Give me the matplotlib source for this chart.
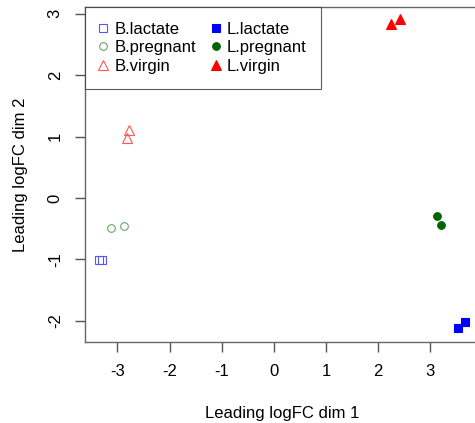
import matplotlib
matplotlib.use('Agg')
import matplotlib.pyplot as plt

plt.rcParams['font.family'] = ['Liberation Sans', 'DejaVu Sans']

# MDS coordinates per group (dim 1, dim 2)
groups = ['B.lactate', 'B.pregnant', 'B.virgin', 'L.lactate', 'L.pregnant', 'L.virgin']
dim1 = {
    'B.lactate': [-3.35, -3.30],
    'B.pregnant': [-3.12, -2.87],
    'B.virgin': [-2.78, -2.82],
    'L.lactate': [3.52, 3.66],
    'L.pregnant': [3.12, 3.20],
    'L.virgin': [2.24, 2.41],
}
dim2 = {
    'B.lactate': [-1.01, -1.01],
    'B.pregnant': [-0.49, -0.45],
    'B.virgin': [1.11, 0.98],
    'L.lactate': [-2.12, -2.02],
    'L.pregnant': [-0.29, -0.44],
    'L.virgin': [2.83, 2.92],
}
x_ticks = [-3, -2, -1, 0, 1, 2, 3]
y_ticks = [-2, -1, 0, 1, 2, 3]

styles = {
    'B.lactate': dict(marker='s', mfc='none', mec='#5555ff', ms=5.5),
    'B.pregnant': dict(marker='o', mfc='none', mec='#66a866', ms=5.5),
    'B.virgin': dict(marker='^', mfc='none', mec='#ff5555', ms=7),
    'L.lactate': dict(marker='s', mfc='#0000ff', mec='#0000ff', ms=5.5),
    'L.pregnant': dict(marker='o', mfc='#006400', mec='#006400', ms=5.5),
    'L.virgin': dict(marker='^', mfc='#ff0000', mec='#ff0000', ms=7),
}

fig = plt.figure(figsize=(4.75, 4.23), dpi=100)
W, H = 475, 423
ax = fig.add_axes([85 / W, 1 - 342 / H, (480 - 85) / W, (342 - 7) / H])

for g in groups:
    ax.plot(dim1[g], dim2[g], linestyle='none', mew=0.8, label=g, **styles[g])

ax.set_xlim(-3.62, 3.95)
ax.set_ylim(-2.345, 3.11)
ax.set_xticks(x_ticks)
ax.set_yticks(y_ticks)
ax.set_xticklabels([str(v) for v in x_ticks])
ax.set_yticklabels([str(v) for v in y_ticks], rotation=90, va='center')
ax.tick_params(axis='both', length=7, width=1, color='#555555', labelsize=12, pad=9)
for s in ax.spines.values():
    s.set_color('#666666')
    s.set_linewidth(1)

ax.set_xlabel('Leading logFC dim 1', fontsize=12, labelpad=19)
ax.set_ylabel('Leading logFC dim 2', fontsize=12, labelpad=14)

leg = ax.legend(loc='upper left', ncol=2, fontsize=12, frameon=True, fancybox=False,
                borderaxespad=0, handlelength=0.4, handletextpad=0.45, columnspacing=1.0,
                labelspacing=0.2, borderpad=0.9)
leg.get_frame().set_edgecolor('#333333')
leg.get_frame().set_linewidth(0.8)

fig.savefig('out.png', dpi=100)
